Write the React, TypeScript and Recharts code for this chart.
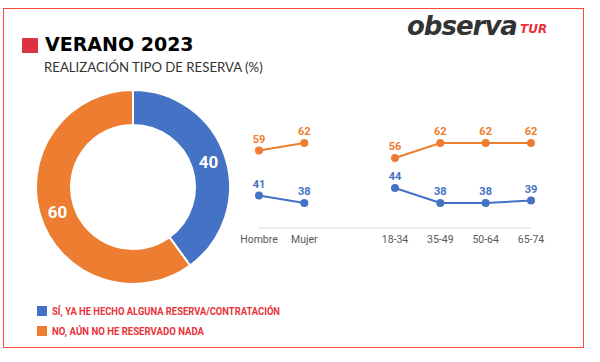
import { Cell, LabelList, Line, LineChart, Pie, PieChart, XAxis, YAxis } from "recharts";

const BLUE = "#4472c4";
const ORANGE = "#ed7d31";
const RED = "#e8333a";

// donut: total share
const SHARE_LABELS = ["SÍ, YA HE HECHO ALGUNA RESERVA/CONTRATACIÓN", "NO, AÚN NO HE RESERVADO NADA"];
const SHARE_VALUES = [40, 60];

// lines by segment (blank slot separates sex and age groups)
const SEGMENTS = ["Hombre", "Mujer", "", "18-34", "35-49", "50-64", "65-74"];
const SI_VALUES = [41, 38, null, 44, 38, 38, 39];
const NO_VALUES = [59, 62, null, 56, 62, 62, 62];

const pieData = SHARE_LABELS.map((name, i) => ({ name, value: SHARE_VALUES[i] }));
const lineData = SEGMENTS.map((segment, i) => ({
  segment,
  si: SI_VALUES[i],
  no: NO_VALUES[i],
}));

const COLORS = [BLUE, ORANGE];
const RAD = Math.PI / 180;

function DonutLabel(props: any) {
  const { cx, cy, midAngle, innerRadius, outerRadius, value } = props;
  const r = (innerRadius + outerRadius) / 2;
  const x = cx + r * Math.cos(-midAngle * RAD);
  const y = cy + r * Math.sin(-midAngle * RAD);
  return (
    <text
      x={x}
      y={y}
      fill="#fff"
      fontSize={17}
      fontWeight={700}
      fontFamily="Roboto, sans-serif"
      textAnchor="middle"
      dominantBaseline="central"
    >
      {value}
    </text>
  );
}

export default function App() {
  return (
    <div style={{ position: "relative", width: 600, height: 362, background: "#fff", fontFamily: "Roboto, sans-serif" }}>
      <style>{`body{margin:0}`}</style>
      <div
        style={{
          position: "absolute",
          left: 3,
          top: 8,
          width: 579,
          height: 338,
          border: "1.5px solid #ff4535",
        }}
      />

      <div style={{ position: "absolute", left: 22, top: 38, width: 16, height: 15, background: "#dc3341" }} />
      <div
        style={{
          position: "absolute",
          left: 45,
          top: 33,
          fontFamily: "DejaVu Sans, sans-serif",
          fontWeight: 700,
          fontSize: 19,
          color: "#000",
          whiteSpace: "nowrap",
        }}
      >
        VERANO 2023
      </div>
      <div
        style={{
          position: "absolute",
          left: 44,
          top: 59,
          fontFamily: "Lato, sans-serif",
          fontSize: 13.2,
          color: "#333",
          whiteSpace: "nowrap",
        }}
      >
        REALIZACIÓN TIPO DE RESERVA (%)
      </div>

      <div
        style={{
          position: "absolute",
          left: 407,
          top: 11,
          fontFamily: "DejaVu Sans, sans-serif",
          fontWeight: 700,
          fontStyle: "italic",
          fontSize: 26,
          color: "#333",
          whiteSpace: "nowrap",
          letterSpacing: -1,
        }}
      >
        observa
      </div>
      <div
        style={{
          position: "absolute",
          left: 520,
          top: 22,
          fontFamily: "DejaVu Sans, sans-serif",
          fontWeight: 700,
          fontStyle: "italic",
          fontSize: 12,
          color: RED,
          whiteSpace: "nowrap",
        }}
      >
        TUR
      </div>

      <div style={{ position: "absolute", left: 33, top: 87 }}>
        <PieChart width={200} height={200} margin={{ top: 0, right: 0, bottom: 0, left: 0 }}>
          <Pie
            data={pieData}
            dataKey="value"
            cx={100}
            cy={100}
            innerRadius={62}
            outerRadius={97}
            startAngle={90}
            endAngle={-270}
            stroke="#fff"
            strokeWidth={2}
            label={DonutLabel}
            labelLine={false}
            isAnimationActive={false}
          >
            {pieData.map((d, i) => (
              <Cell key={d.name} fill={COLORS[i]} />
            ))}
          </Pie>
        </PieChart>
      </div>

      <div style={{ position: "absolute", left: 230, top: 100 }}>
        <LineChart width={330} height={160} data={lineData} margin={{ top: 18, right: 29, bottom: 12, left: 29 }}>
          <XAxis
            dataKey="segment"
            height={20}
            interval={0}
            tickLine={false}
            axisLine={{ stroke: "#d9d9d9" }}
            tick={{ fill: "#595959", fontSize: 10.5, fontFamily: "Roboto, sans-serif" }}
          />
          <YAxis hide domain={[28, 72]} />
          <Line
            dataKey="no"
            stroke={ORANGE}
            strokeWidth={2}
            dot={{ r: 3, fill: ORANGE, stroke: ORANGE }}
            connectNulls={false}
            isAnimationActive={false}
          >
            <LabelList dataKey="no" position="top" offset={8} fill={ORANGE} fontSize={11} fontWeight={700} />
          </Line>
          <Line
            dataKey="si"
            stroke={BLUE}
            strokeWidth={2}
            dot={{ r: 3, fill: BLUE, stroke: BLUE }}
            connectNulls={false}
            isAnimationActive={false}
          >
            <LabelList dataKey="si" position="top" offset={8} fill={BLUE} fontSize={11} fontWeight={700} />
          </Line>
        </LineChart>
      </div>

      <svg style={{ position: "absolute", left: 0, top: 295 }} width={420} height={50}>
        {SHARE_LABELS.map((label, i) => (
          <g key={label}>
            <rect x={37} y={11 + i * 20} width={10} height={10} fill={COLORS[i]} />
            <text
              x={52}
              y={20 + i * 20}
              fill={RED}
              fontSize={10.5}
              fontWeight={700}
              fontFamily="Roboto, sans-serif"
              textLength={i === 0 ? 228 : 152}
              lengthAdjust="spacingAndGlyphs"
            >
              {label}
            </text>
          </g>
        ))}
      </svg>
    </div>
  );
}
